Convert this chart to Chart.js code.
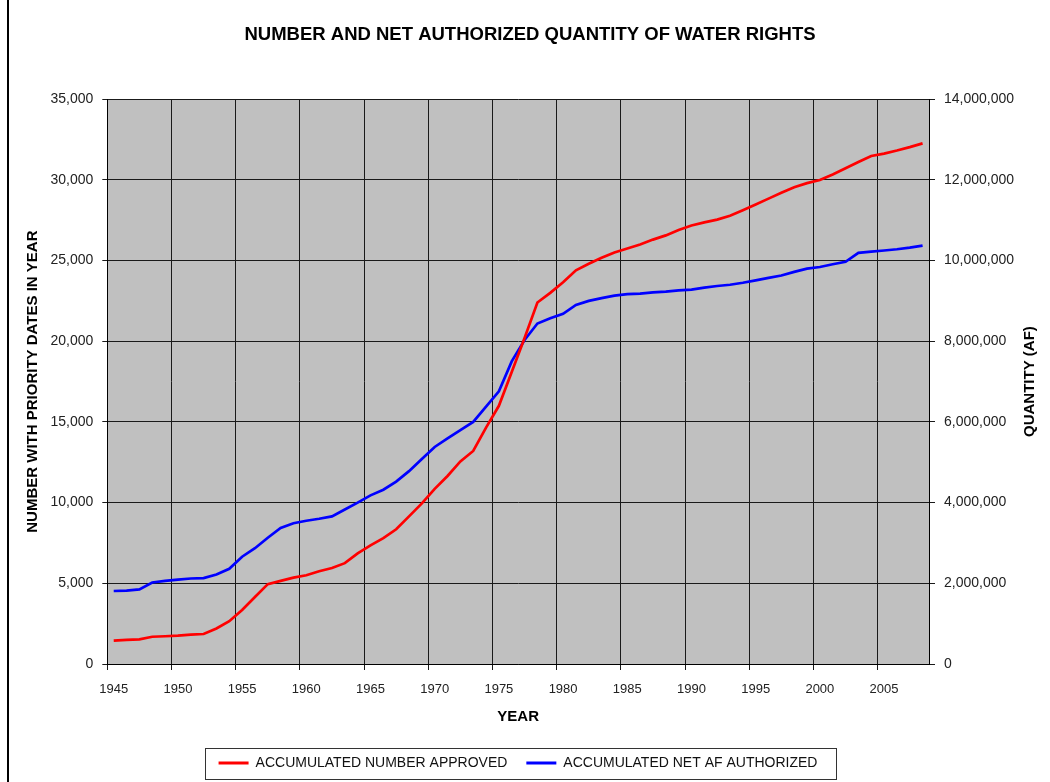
<!DOCTYPE html>
<html>
<head>
<meta charset="utf-8">
<script src="https://cdn.jsdelivr.net/npm/chart.js@4.4.0/dist/chart.umd.min.js"></script>
<style>
  html, body { margin: 0; padding: 0; background: #fff; }
  #wrap { width: 1050px; height: 782px; }
</style>
</head>
<body>
<div id="wrap"><canvas id="myChart" width="1050" height="782"></canvas></div>
<script>
// años (categorias)
const years = [
  1945, 1946, 1947, 1948, 1949, 1950, 1951, 1952, 1953, 1954,
  1955, 1956, 1957, 1958, 1959, 1960, 1961, 1962, 1963, 1964,
  1965, 1966, 1967, 1968, 1969, 1970, 1971, 1972, 1973, 1974,
  1975, 1976, 1977, 1978, 1979, 1980, 1981, 1982, 1983, 1984,
  1985, 1986, 1987, 1988, 1989, 1990, 1991, 1992, 1993, 1994,
  1995, 1996, 1997, 1998, 1999, 2000, 2001, 2002, 2003, 2004,
  2005, 2006, 2007, 2008
];

// accumulated number approved (eje izquierdo)
const numberApproved = [
  1450, 1500, 1530, 1690, 1720, 1760, 1820, 1860, 2200, 2650,
  3350, 4150, 4950, 5150, 5350, 5500, 5750, 5950, 6250, 6850,
  7350, 7800, 8350, 9150, 9950, 10850, 11650, 12550, 13200, 14650,
  16000, 18100, 20200, 22400, 23000, 23650, 24400, 24800, 25170, 25500,
  25750, 26000, 26300, 26560, 26890, 27170, 27370, 27540, 27780, 28120,
  28470, 28840, 29200, 29550, 29800, 29990, 30340, 30720, 31110, 31480,
  31630, 31820, 32030, 32260
];

// accumulated net AF authorized (eje derecho)
const netAfAuthorized = [
  1810000, 1820000, 1850000, 2020000, 2060000, 2090000, 2120000, 2130000, 2220000, 2360000,
  2660000, 2870000, 3130000, 3370000, 3490000, 3550000, 3600000, 3660000, 3830000, 4000000,
  4180000, 4320000, 4520000, 4780000, 5080000, 5380000, 5590000, 5800000, 6000000, 6380000,
  6760000, 7500000, 8030000, 8440000, 8570000, 8680000, 8900000, 9000000, 9070000, 9130000,
  9170000, 9180000, 9210000, 9230000, 9260000, 9280000, 9330000, 9370000, 9400000, 9450000,
  9510000, 9570000, 9630000, 9720000, 9800000, 9840000, 9910000, 9970000, 10190000, 10220000,
  10250000, 10280000, 10320000, 10370000
];

// etiquetas del eje x (cada 5 años)
const xTickLabels = ['1945', '1950', '1955', '1960', '1965', '1970', '1975', '1980', '1985', '1990', '1995', '2000', '2005'];

const redColor = '#ff0000';
const blueColor = '#0000ff';
const gridColor = '#1a1a1a';

Chart.defaults.font.family = '"Liberation Sans", Arial, sans-serif';
Chart.defaults.color = '#222';

// fondo gris del area + titulo derecho + marco de la leyenda
const extras = {
  id: 'extras',
  afterLayout(chart) {
    chart.legend.left -= 24; // mover la leyenda un poco a la izquierda
  },
  beforeDraw(chart) {
    const { ctx, chartArea: a } = chart;
    ctx.save();
    ctx.fillStyle = '#c0c0c0';
    ctx.fillRect(a.left, a.top, a.right - a.left, a.bottom - a.top);
    ctx.strokeStyle = '#000';
    ctx.lineWidth = 2;
    ctx.beginPath();
    ctx.moveTo(8, 0);
    ctx.lineTo(8, chart.height);
    ctx.stroke();
    ctx.restore();
  },
  afterDraw(chart) {
    const { ctx, chartArea: a } = chart;
    ctx.save();
    ctx.translate(1030, (a.top + a.bottom) / 2);
    ctx.rotate(-Math.PI / 2);
    ctx.fillStyle = '#000';
    ctx.font = 'bold 15px "Liberation Sans", Arial, sans-serif';
    ctx.textAlign = 'center';
    ctx.textBaseline = 'middle';
    ctx.fillText('QUANTITY (AF)', 0, 0);
    ctx.restore();

    const hb = chart.legend.legendHitBoxes;
    if (hb && hb.length) {
      const l = Math.min(...hb.map(h => h.left)) - 14;
      const r = Math.max(...hb.map(h => h.left + h.width)) + 18;
      const cy = hb[0].top + hb[0].height / 2;
      ctx.save();
      ctx.strokeStyle = '#333';
      ctx.lineWidth = 1;
      ctx.strokeRect(Math.round(l) + 0.5, Math.round(cy - 15.5) + 0.5, Math.round(r - l), 31);
      ctx.restore();
    }
  }
};

const ctx = document.getElementById('myChart');

const myChart = new Chart(ctx, {
  type: 'line',
  data: {
    labels: years,
    datasets: [{
      label: 'ACCUMULATED NUMBER APPROVED',
      data: numberApproved,
      yAxisID: 'y',
      borderColor: redColor,
      backgroundColor: redColor,
      borderWidth: 2.7,
      pointRadius: 0,
      tension: 0
    }, {
      label: 'ACCUMULATED NET AF AUTHORIZED',
      data: netAfAuthorized,
      yAxisID: 'y1',
      borderColor: blueColor,
      backgroundColor: blueColor,
      borderWidth: 2.7,
      pointRadius: 0,
      tension: 0
    }]
  },
  options: {
    responsive: false,
    animation: false,
    layout: { padding: { left: 10, right: 0, top: 0, bottom: 2 } },
    scales: {
      x: {
        offset: true,
        grid: {
          offset: true,
          color: (c) => (c.index % 5 === 0 && c.index < years.length) ? gridColor : 'rgba(0,0,0,0)',
          tickLength: 6
        },
        border: { color: '#000' },
        ticks: {
          autoSkip: false,
          maxRotation: 0,
          minRotation: 0,
          padding: 12,
          font: { size: 13 },
          callback: (v, i) => (i % 5 === 0 ? xTickLabels[i / 5] : '')
        },
        title: {
          display: true,
          text: 'YEAR',
          color: '#000',
          font: { size: 15, weight: 'bold' },
          padding: { top: 0, bottom: 11 }
        },
        afterFit: (scale) => { scale.height = 73; }
      },
      y: {
        position: 'left',
        min: 0,
        max: 35000,
        ticks: {
          stepSize: 5000,
          padding: 9,
          font: { size: 14 },
          callback: (v) => v.toLocaleString('en-US')
        },
        grid: { color: gridColor, tickLength: 5 },
        border: { color: '#000' },
        title: {
          display: true,
          text: 'NUMBER WITH PRIORITY DATES IN YEAR',
          color: '#000',
          font: { size: 15, weight: 'bold' },
          padding: { top: 14, bottom: 0 }
        },
        afterFit: (scale) => { scale.width = 97.3; }
      },
      y1: {
        position: 'right',
        min: 0,
        max: 14000000,
        ticks: {
          stepSize: 2000000,
          padding: 9,
          font: { size: 14 },
          callback: (v) => v.toLocaleString('en-US')
        },
        grid: { drawOnChartArea: false, color: gridColor, tickLength: 6 },
        border: { color: '#000' },
        afterFit: (scale) => { scale.width = 121; }
      }
    },
    plugins: {
      title: {
        display: true,
        text: 'NUMBER AND NET AUTHORIZED QUANTITY OF WATER RIGHTS',
        color: '#000',
        font: { size: 18.5, weight: 'bold' },
        padding: { top: 24, bottom: 53 }
      },
      legend: {
        position: 'bottom',
        labels: {
          boxWidth: 30,
          boxHeight: 3,
          padding: 19,
          color: '#111',
          font: { size: 14 },
          generateLabels: (chart) =>
            Chart.defaults.plugins.legend.labels.generateLabels(chart)
              .map(l => Object.assign(l, { lineWidth: 0, fillStyle: l.strokeStyle }))
        }
      },
      tooltip: { enabled: false }
    }
  },
  plugins: [extras]
});
</script>
</body>
</html>
